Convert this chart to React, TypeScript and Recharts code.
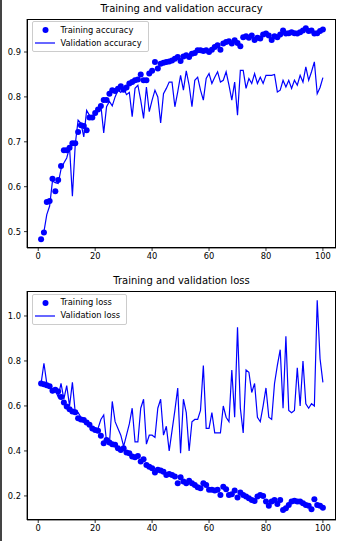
import React from 'react';
import { ComposedChart, Line, XAxis, YAxis } from 'recharts';

const epochs: number[] = Array.from({ length: 100 }, (_, i) => i + 1);

const trainAcc: number[] = [
  0.483, 0.498, 0.566, 0.568, 0.618, 0.590, 0.615, 0.646, 0.681, 0.681,
  0.687, 0.697, 0.697, 0.722, 0.737, 0.735, 0.726, 0.754, 0.754, 0.764,
  0.772, 0.780, 0.793, 0.793, 0.807, 0.815, 0.813, 0.818, 0.824, 0.816,
  0.821, 0.830, 0.833, 0.837, 0.839, 0.850, 0.837, 0.837, 0.852, 0.858,
  0.878, 0.863, 0.874, 0.876, 0.878, 0.879, 0.881, 0.885, 0.889, 0.880,
  0.890, 0.893, 0.889, 0.896, 0.898, 0.904, 0.904, 0.902, 0.904, 0.900,
  0.905, 0.911, 0.915, 0.905, 0.919, 0.922, 0.924, 0.919, 0.926, 0.920,
  0.913, 0.933, 0.935, 0.932, 0.937, 0.927, 0.932, 0.930, 0.939, 0.941,
  0.937, 0.927, 0.935, 0.933, 0.939, 0.948, 0.941, 0.942, 0.944, 0.942,
  0.941, 0.944, 0.948, 0.953, 0.947, 0.948, 0.941, 0.942, 0.947, 0.950,
];

const valAcc: number[] = [
  0.500, 0.500, 0.538, 0.557, 0.613, 0.609, 0.607, 0.639, 0.653, 0.664,
  0.687, 0.579, 0.694, 0.748, 0.741, 0.711, 0.770, 0.759, 0.752, 0.763,
  0.774, 0.781, 0.720, 0.778, 0.790, 0.780, 0.800, 0.815, 0.810, 0.820,
  0.805, 0.810, 0.756, 0.819, 0.826, 0.793, 0.752, 0.822, 0.767, 0.793,
  0.815, 0.800, 0.742, 0.807, 0.819, 0.833, 0.833, 0.778, 0.811, 0.848,
  0.815, 0.858, 0.826, 0.778, 0.837, 0.844, 0.815, 0.793, 0.841, 0.852,
  0.830, 0.844, 0.856, 0.833, 0.837, 0.856, 0.826, 0.793, 0.833, 0.759,
  0.859, 0.859, 0.819, 0.841, 0.830, 0.852, 0.830, 0.844, 0.830, 0.848,
  0.848, 0.848, 0.850, 0.811, 0.815, 0.837, 0.822, 0.837, 0.819, 0.837,
  0.826, 0.848, 0.833, 0.867, 0.837, 0.856, 0.878, 0.807, 0.821, 0.843,
];

const trainLoss: number[] = [
  0.700, 0.697, 0.692, 0.688, 0.668, 0.672, 0.664, 0.640, 0.615, 0.597,
  0.585, 0.575, 0.572, 0.545, 0.540, 0.538, 0.526, 0.516, 0.500, 0.493,
  0.490, 0.467, 0.434, 0.449, 0.437, 0.430, 0.427, 0.412, 0.404, 0.412,
  0.393, 0.390, 0.375, 0.372, 0.378, 0.353, 0.363, 0.338, 0.330, 0.323,
  0.304, 0.316, 0.313, 0.308, 0.293, 0.298, 0.293, 0.286, 0.256, 0.283,
  0.264, 0.256, 0.268, 0.256, 0.249, 0.239, 0.234, 0.256, 0.249, 0.227,
  0.227, 0.224, 0.227, 0.204, 0.241, 0.230, 0.204, 0.207, 0.224, 0.193,
  0.215, 0.204, 0.197, 0.190, 0.182, 0.178, 0.197, 0.204, 0.200, 0.175,
  0.156, 0.175, 0.182, 0.164, 0.182, 0.138, 0.145, 0.160, 0.175, 0.179,
  0.175, 0.175, 0.167, 0.160, 0.156, 0.141, 0.185, 0.160, 0.156, 0.148,
];

const valLoss: number[] = [
  0.700, 0.790, 0.700, 0.690, 0.660, 0.670, 0.640, 0.700, 0.630, 0.690,
  0.600, 0.705, 0.570, 0.570, 0.550, 0.540, 0.530, 0.520, 0.500, 0.490,
  0.500, 0.540, 0.560, 0.440, 0.430, 0.620, 0.530, 0.500, 0.470, 0.420,
  0.470, 0.520, 0.590, 0.440, 0.440, 0.590, 0.630, 0.430, 0.470, 0.470,
  0.460, 0.590, 0.630, 0.470, 0.510, 0.400, 0.490, 0.580, 0.680, 0.390,
  0.630, 0.570, 0.400, 0.530, 0.540, 0.540, 0.580, 0.780, 0.500, 0.500,
  0.570, 0.480, 0.480, 0.480, 0.600, 0.550, 0.530, 0.760, 0.550, 0.950,
  0.590, 0.480, 0.760, 0.750, 0.660, 0.700, 0.550, 0.530, 0.600, 0.680,
  0.550, 0.540, 0.700, 0.780, 0.850, 0.590, 0.910, 0.580, 0.570, 0.580,
  0.770, 0.600, 0.800, 0.610, 0.590, 0.610, 0.600, 1.070, 0.810, 0.705,
];

const xTicks: number[] = [0, 20, 40, 60, 80, 100];
const accTicks: number[] = [0.5, 0.6, 0.7, 0.8, 0.9];
const lossTicks: number[] = [0.2, 0.4, 0.6, 0.8, 1.0];

const accData = epochs.map((e, i) => ({ epoch: e, train: trainAcc[i], val: valAcc[i] }));
const lossData = epochs.map((e, i) => ({ epoch: e, train: trainLoss[i], val: valLoss[i] }));

const FONT = '"DejaVu Sans", sans-serif';
const BLUE = '#0000ff';
const tickStyle = { fontFamily: FONT, fontSize: 8.3, fill: '#000' };

const PLOT_LEFT = 27;
const PLOT_RIGHT = 336;

function LegendBox({ labels, top }: { labels: [string, string]; top: number }) {
  return (
    <div
      style={{
        position: 'absolute',
        left: 31.5,
        top,
        background: 'rgba(255,255,255,0.8)',
        border: '0.8px solid #cccccc',
        borderRadius: 2,
        padding: '1.5px 6px 1.5px 1px',
        fontFamily: FONT,
        fontSize: 8.3,
        color: '#000',
        lineHeight: '12.5px',
      }}
    >
      <div style={{ display: 'flex', alignItems: 'center', height: 13 }}>
        <svg width={24} height={10} style={{ marginRight: 3 }}>
          <circle cx={11.5} cy={5} r={3} fill={BLUE} />
        </svg>
        <span>{labels[0]}</span>
      </div>
      <div style={{ display: 'flex', alignItems: 'center', height: 13 }}>
        <svg width={24} height={10} style={{ marginRight: 3 }}>
          <line x1={1} y1={5} x2={21} y2={5} stroke={BLUE} strokeWidth={1.2} />
        </svg>
        <span>{labels[1]}</span>
      </div>
    </div>
  );
}

function Panel({
  data,
  domain,
  ticks,
  title,
  labels,
  height,
  marginTop,
  marginBottom,
  legendTop,
  titleTop,
  fmt,
}: {
  data: { epoch: number; train: number; val: number }[];
  domain: [number, number];
  ticks: number[];
  title: string;
  labels: [string, string];
  height: number;
  marginTop: number;
  marginBottom: number;
  legendTop: number;
  titleTop: number;
  fmt: (v: number) => string;
}) {
  const plotBottom = height - marginBottom - 20;
  return (
    <div style={{ position: 'relative', width: 343, height }}>
      <div
        style={{
          position: 'absolute',
          top: titleTop,
          left: PLOT_LEFT,
          width: PLOT_RIGHT - PLOT_LEFT,
          textAlign: 'center',
          fontFamily: FONT,
          fontSize: 10,
          color: '#000',
          lineHeight: '12px',
        }}
      >
        {title}
      </div>
      <ComposedChart
        width={343}
        height={height}
        data={data}
        margin={{ top: marginTop, right: 343 - PLOT_RIGHT, bottom: marginBottom, left: 0 }}
      >
        <XAxis
          dataKey="epoch"
          type="number"
          domain={[-3.95, 104.6]}
          ticks={xTicks}
          allowDataOverflow
          height={20}
          tickSize={3}
          tickMargin={2}
          tick={tickStyle}
          stroke="#000"
          strokeWidth={0.8}
        />
        <YAxis
          type="number"
          domain={domain}
          ticks={ticks}
          allowDataOverflow
          width={PLOT_LEFT}
          tickSize={3}
          tickMargin={3}
          tick={tickStyle}
          tickFormatter={fmt}
          stroke="#000"
          strokeWidth={0.8}
        />
        <Line
          dataKey="train"
          stroke="none"
          strokeWidth={0}
          dot={{ r: 3, fill: BLUE, stroke: 'none', strokeWidth: 0 }}
          activeDot={false}
          isAnimationActive={false}
        />
        <Line
          dataKey="val"
          stroke={BLUE}
          strokeWidth={1.2}
          dot={false}
          activeDot={false}
          isAnimationActive={false}
        />
      </ComposedChart>
      <div
        style={{
          position: 'absolute',
          left: PLOT_LEFT,
          top: marginTop,
          width: PLOT_RIGHT - PLOT_LEFT,
          height: plotBottom - marginTop,
          boxSizing: 'border-box',
          border: '0.8px solid #000',
          pointerEvents: 'none',
        }}
      />
      <LegendBox labels={labels} top={legendTop} />
    </div>
  );
}

export default function App() {
  return (
    <div
      style={{
        position: 'absolute',
        left: 0,
        top: 0,
        width: 343,
        height: 541,
        background: '#fff',
        overflow: 'hidden',
      }}
    >
      <div style={{ position: 'absolute', left: 0, top: 0, width: 1.5, height: 541, background: '#444', zIndex: 2 }} />
      <Panel
        data={accData}
        domain={[0.4635, 0.9735]}
        ticks={accTicks}
        title="Training and validation accuracy"
        labels={['Training accuracy', 'Validation accuracy']}
        height={270}
        marginTop={19}
        marginBottom={2}
        legendTop={21}
        titleTop={3}
        fmt={(v) => v.toFixed(1)}
      />
      <Panel
        data={lossData}
        domain={[0.093, 1.111]}
        ticks={lossTicks}
        title="Training and validation loss"
        labels={['Training loss', 'Validation loss']}
        height={271}
        marginTop={21}
        marginBottom={1}
        legendTop={23.5}
        titleTop={5}
        fmt={(v) => v.toFixed(1)}
      />
    </div>
  );
}
